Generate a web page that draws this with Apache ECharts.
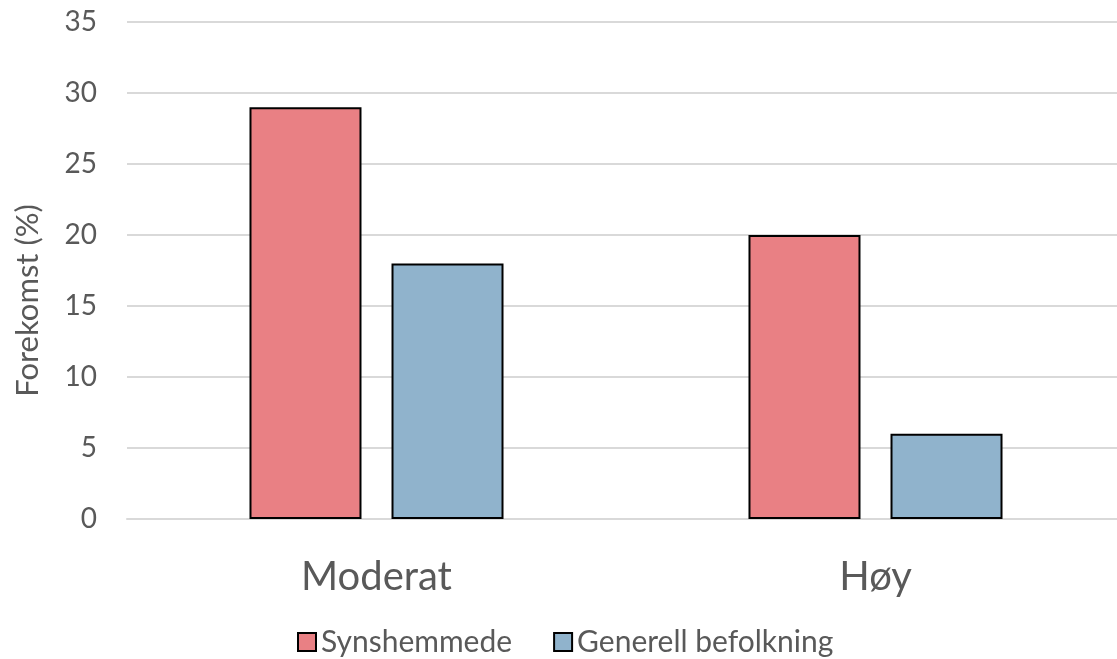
<!DOCTYPE html>
<html><head><meta charset="utf-8">
<script src="https://cdn.jsdelivr.net/npm/echarts@6/dist/echarts.min.js"></script>
<style>html,body{margin:0;padding:0;background:#fff}#c{width:1117px;height:659px}</style>
</head><body><div id="c"></div>
<script>
const categories = ["Moderat", "Høy"];
const synshemmede = [29, 20];
const generell = [18, 6];
const seriesNames = ["Synshemmede", "Generell befolkning"];
const yTicks = {min: 0, max: 35, interval: 5};

const font = "Lato, 'Noto Sans', sans-serif";
const chart = echarts.init(document.getElementById('c'), null, {renderer: 'canvas'});
chart.setOption({
  animation: false,
  textStyle: {fontFamily: font},
  grid: {left: 127, right: -8, top: 22, bottom: 140, containLabel: false, outerBoundsMode: 'none'},
  legend: {
    bottom: -3, left: 292,
    itemWidth: 18, itemHeight: 18, itemGap: 41,
    icon: 'rect',
    textStyle: {fontSize: 30, color: '#595959', fontFamily: font},
    data: seriesNames
  },
  xAxis: {
    type: 'category', data: categories,
    axisLine: {show: true, lineStyle: {color: '#D9D9D9', width: 2}},
    axisTick: {show: false},
    axisLabel: {fontSize: 40, color: '#595959', margin: 38, fontFamily: font}
  },
  yAxis: {
    type: 'value', min: yTicks.min, max: yTicks.max, interval: yTicks.interval,
    name: 'Forekomst (%)', nameLocation: 'middle', nameGap: 84, nameRotate: 90,
    nameTextStyle: {fontSize: 31, color: '#595959', fontFamily: font, padding: [0, 60, 0, 0]},
    axisLine: {show: false}, axisTick: {show: false},
    axisLabel: {fontSize: 28, color: '#595959', margin: 30, fontFamily: font},
    splitLine: {lineStyle: {color: '#D9D9D9', width: 2}}
  },
  series: [
    {name: seriesNames[0], type: 'bar', data: synshemmede, barWidth: 112, barGap: '26.8%',
     itemStyle: {color: '#E98084', borderColor: '#000', borderWidth: 2}},
    {name: seriesNames[1], type: 'bar', data: generell, barWidth: 112,
     itemStyle: {color: '#90B3CC', borderColor: '#000', borderWidth: 2}}
  ]
});
</script></body></html>
